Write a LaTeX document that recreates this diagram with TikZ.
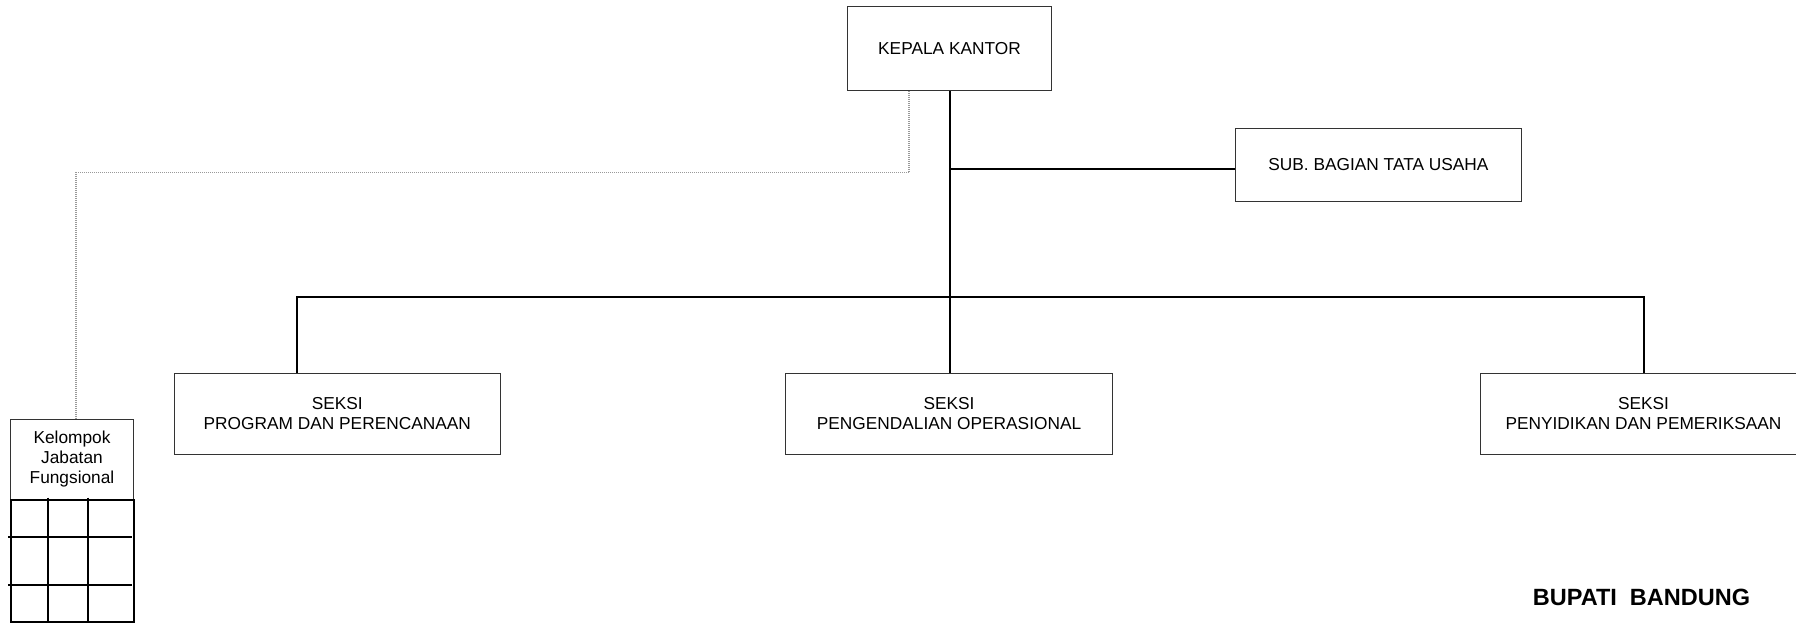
\documentclass[tikz,border=0pt]{standalone}
\usepackage{fontspec}
\setmainfont{Liberation Sans}
\begin{document}
\begin{tikzpicture}[x=1pt,y=-1pt,
  orgbox/.style={draw=black!80,line width=1pt,inner sep=0pt,align=center,
    font=\fontsize{17.3}{20}\selectfont},
  link/.style={line width=2pt,black},
  staff/.style={draw=black!40,line width=1.3pt,dash pattern=on 1pt off 1pt},
  gridline/.style={line width=2pt,black}]
\useasboundingbox (0,0) rectangle (1796,624);
\clip (0,0) rectangle (1796,624);

% boxes of the organisation chart
\node[orgbox,minimum width=204pt,minimum height=84.5pt] (kepala) at (949.5,48.3) {KEPALA KANTOR};
\node[orgbox,minimum width=285.3pt,minimum height=73.4pt] (sub) at (1378.4,165) {SUB. BAGIAN TATA USAHA};
\node[orgbox,minimum width=326.5pt,minimum height=81pt] (prog) at (337.3,414) {SEKSI\\PROGRAM DAN PERENCANAAN};
\node[orgbox,minimum width=326.5pt,minimum height=81pt] (opr) at (949,414) {SEKSI\\PENGENDALIAN OPERASIONAL};
\node[orgbox,minimum width=326.5pt,minimum height=81pt] (sidik) at (1643.5,414) {SEKSI\\PENYIDIKAN DAN PEMERIKSAAN};

% functional group with its table
\node[orgbox,minimum width=123pt,minimum height=81pt] (kjf) at (72,459.5) {Kelompok\\Jabatan\\Fungsional};
\draw[gridline] (10.5,500) rectangle (133.5,622);
\draw[gridline] (8,536.5) -- (131.7,536.5);
\draw[gridline] (8,585.3) -- (131.7,585.3);
\draw[gridline] (47.7,497.5) -- (47.7,622);
\draw[gridline] (88.3,497.5) -- (88.3,622);

% line of command
\coordinate (j1) at (949.5,169.3);
\coordinate (busL) at (296.6,296.6);
\draw[link] (kepala.south) -- (kepala.south |- opr.north);
\draw[link] (j1) -- (j1 -| sub.west);
\draw[link] (busL |- prog.north) -- (busL) -- (busL -| sidik.north) -- (sidik.north);

% line of coordination
\coordinate (c1) at (909,90.5);
\coordinate (c2) at (909,172.3);
\coordinate (c3) at (76,172.3);
\draw[staff] (c1) -- (c2) -- (c3) -- (c3 |- kjf.north);

\node[font=\fontsize{23.5}{26}\selectfont\bfseries] (bupati) at (1641.5,597) {BUPATI\ \ BANDUNG};
\end{tikzpicture}
\end{document}
